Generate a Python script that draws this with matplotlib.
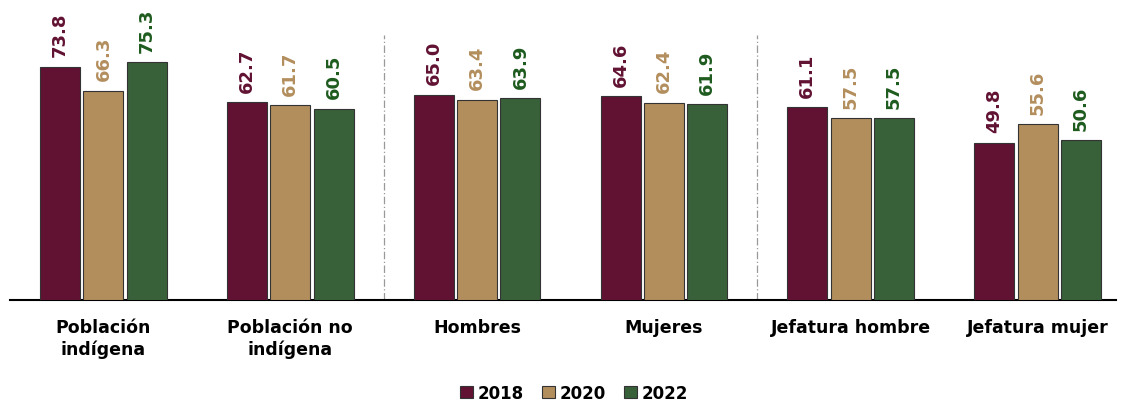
import matplotlib
matplotlib.use("Agg")
import matplotlib.pyplot as plt
import numpy as np

categories = ["Población\nindígena", "Población no\nindígena", "Hombres", "Mujeres", "Jefatura hombre", "Jefatura mujer"]
years = ["2018", "2020", "2022"]
v2018 = [73.8, 62.7, 65.0, 64.6, 61.1, 49.8]
v2020 = [66.3, 61.7, 63.4, 62.4, 57.5, 55.6]
v2022 = [75.3, 60.5, 63.9, 61.9, 57.5, 50.6]
series = [v2018, v2020, v2022]
bar_colors = ["#611232", "#B38E5D", "#38613A"]
label_colors = ["#611232", "#B38E5D", "#1E5B1E"]

plt.rcParams['font.family'] = ['DejaVu Sans']

fig = plt.figure(figsize=(11.21, 4.02), dpi=100)
ax = fig.add_axes([10/1121, 1 - 301/402, (1116-10)/1121, 301/402])

x = np.arange(len(categories))
step = 0.232
width = 0.214
for i, (vals, c, lc) in enumerate(zip(series, bar_colors, label_colors)):
    pos = x + (i - 1) * step
    ax.bar(pos, vals, width=width, color=c, edgecolor="#333333", linewidth=0.8, label=years[i], zorder=3)
    for p, v in zip(pos, vals):
        ax.text(p, v + 3.3, f"{v:.1f}", rotation=90, ha="center", va="bottom",
                fontsize=13, fontweight="bold", color=lc)

for sx in [1.5, 3.5]:
    ax.plot([sx, sx], [0, 84], color="#999999", linestyle=(0, (6, 2, 1, 2)), linewidth=0.9, zorder=1)

ax.set_xlim(-0.5, 5.42)
ax.set_ylim(0, 95.3)
ax.set_yticks([])
ax.set_xticks(x)
ax.set_xticklabels(categories, fontsize=12.5, fontweight="bold", linespacing=1.25)
ax.tick_params(axis="x", length=0, pad=13)
for s in ["top", "right", "left"]:
    ax.spines[s].set_visible(False)
ax.spines["bottom"].set_linewidth(1.5)
ax.spines["bottom"].set_color("#000000")

leg = fig.legend(loc="center", bbox_to_anchor=(574/1121, 1 - 394/402), ncol=3, frameon=False,
                 prop={"size": 12, "weight": "bold"}, handlelength=0.75, handleheight=0.75,
                 handletextpad=0.3, columnspacing=1.1)

fig.savefig("out.png", dpi=100)
